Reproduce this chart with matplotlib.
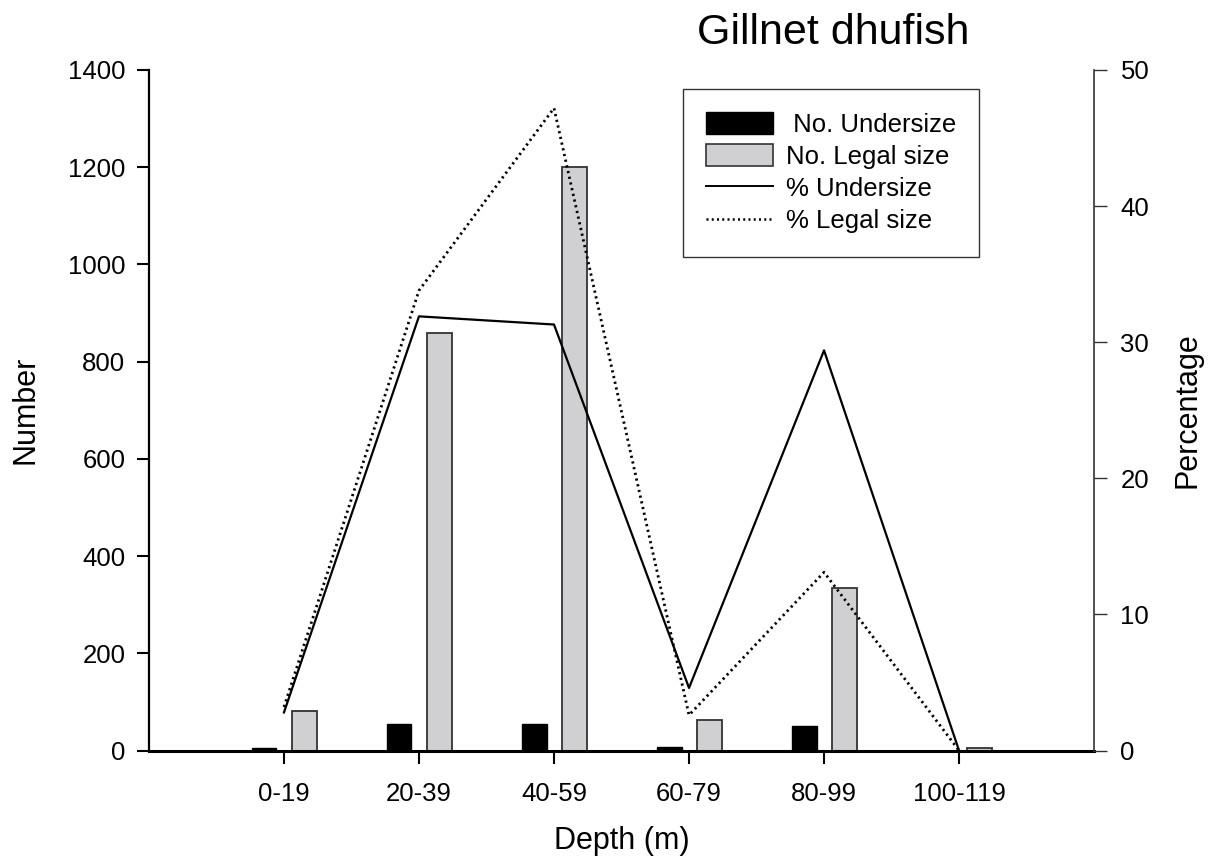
import matplotlib
matplotlib.use("Agg")
import matplotlib.pyplot as plt
from matplotlib.patches import Patch
from matplotlib.lines import Line2D
import numpy as np

plt.rcParams['font.family'] = ['Liberation Sans', 'DejaVu Sans']

categories = ["0-19", "20-39", "40-59", "60-79", "80-99", "100-119"]
no_undersize = [5, 55, 54, 7, 51, 0]
no_legal = [82, 859, 1201, 62, 334, 5]
pct_undersize = [2.8, 31.9, 31.3, 4.6, 29.4, 0.0]
pct_legal = [3.2, 33.8, 47.2, 2.6, 13.1, 0.0]

fig = plt.figure(figsize=(12.14, 8.61), dpi=100)
ax = fig.add_axes([0.1227, 0.1283, 0.9012 - 0.1227, 0.9187 - 0.1283])

x = np.arange(len(categories))
w = 0.185
ax.bar(x - 0.148, no_undersize, width=w, color='black', edgecolor='black', linewidth=1.0, zorder=2)
ax.bar(x + 0.152, no_legal, width=w, color='#d0d0d3', edgecolor='#333333', linewidth=1.3, zorder=2)

ax.set_xlim(-1, 6)
ax.set_ylim(0, 1400)
ax.set_yticks(np.arange(0, 1401, 200))
ax.set_xticks(x)
ax.set_xticklabels(categories)
ax.tick_params(axis='both', direction='out', length=9, width=1.5, labelsize=18.5, pad=8)
ax.tick_params(axis='x', pad=14)
ax.spines['top'].set_visible(False)
ax.spines['right'].set_visible(False)
ax.spines['left'].set_linewidth(1.6)
ax.spines['bottom'].set_linewidth(2.2)
ax.set_ylabel("Number", fontsize=22, labelpad=20)
ax.set_xlabel("Depth (m)", fontsize=22, labelpad=14)

ax2 = ax.twinx()
ax2.plot(x, pct_undersize, color='black', linewidth=1.6, linestyle='-', zorder=3)
ax2.plot(x, pct_legal, color='black', linewidth=2.0, linestyle=(0, (0.8, 1.3)), zorder=3)
ax2.set_ylim(0, 50)
ax2.set_yticks(np.arange(0, 51, 10))
ax2.tick_params(axis='y', direction='out', length=9, width=1.0, labelsize=18.5, pad=10, color='#333333')
ax2.spines['top'].set_visible(False)
ax2.spines['left'].set_visible(False)
ax2.spines['bottom'].set_visible(False)
ax2.spines['right'].set_linewidth(1.2)
ax2.spines['right'].set_color('#333333')
ax2.set_ylabel("Percentage", fontsize=22, labelpad=17)

fig.text(0.686, 0.962, "Gillnet dhufish", fontsize=31, ha='center', va='center')

handles = [
    Patch(facecolor='black', edgecolor='black'),
    Patch(facecolor='#d0d0d3', edgecolor='#333333', linewidth=1.2),
    Line2D([0], [0], color='black', linewidth=1.4),
    Line2D([0], [0], color='black', linewidth=1.8, linestyle=(0, (0.8, 1.3))),
]
labels = [" No. Undersize", "No. Legal size", "% Undersize", "% Legal size"]
leg = ax2.legend(handles, labels, loc='upper left', bbox_to_anchor=(0.565, 0.972),
                 fontsize=18.5, frameon=True, fancybox=False, edgecolor='black',
                 handlelength=2.6, handleheight=0.9, handletextpad=0.5,
                 labelspacing=0.3, borderpad=0.9, borderaxespad=0)
leg.get_frame().set_linewidth(1.0)

fig.savefig("out.png", dpi=100)
